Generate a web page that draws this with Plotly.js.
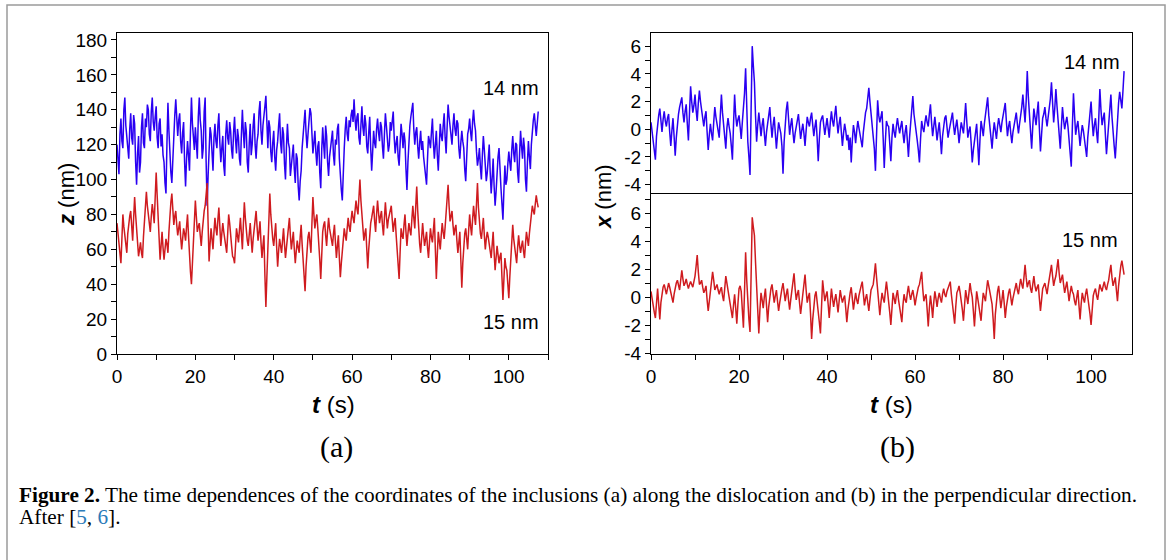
<!DOCTYPE html>
<html>
<head>
<meta charset="utf-8">
<script src="https://cdn.plot.ly/plotly-3.0.1.min.js"></script>
<style>html,body{margin:0;padding:0;background:#fff;}#chart{width:1170px;height:560px;}</style>
</head>
<body>
<div id="chart"></div>
<script>
// ---- data ----
const sampleStep = 0.25; // s between samples

// (a) z coordinate, 14 nm inclusion (blue)
const zBlue14 = [
120,108,103,126,135,122,118,140,147,131,125,117,112,129,138,124,120,137,132,110,
97,115,125,104,110,130,138,121,118,135,130,143,140,126,122,139,147,133,128,136,
142,124,118,132,135,119,126,114,110,98,92,121,144,128,112,104,98,115,128,137,
146,131,125,134,138,122,115,127,133,110,96,112,122,114,105,128,147,132,120,117,
130,121,112,136,147,134,128,112,118,139,147,110,85,102,115,130,126,112,105,124,
132,122,118,131,138,121,110,118,125,108,102,126,134,124,120,133,128,117,112,127,
136,123,115,129,124,112,108,126,140,127,118,133,128,110,104,121,132,114,120,131,
138,120,112,122,126,139,145,128,120,131,135,142,148,125,118,134,130,116,110,121,
128,113,105,117,122,131,138,121,115,130,126,109,100,119,132,121,118,102,108,116,
120,106,98,115,112,96,88,99,105,118,125,133,140,127,118,126,132,141,138,124,
115,121,128,116,108,119,122,104,95,117,130,120,112,131,125,110,102,113,118,124,
128,114,108,123,120,129,132,112,100,94,88,107,118,129,136,126,122,134,130,137,
140,133,146,135,128,136,138,124,120,131,142,130,125,137,132,119,115,127,136,118,
105,116,128,121,118,129,135,127,122,133,130,119,112,126,138,131,125,116,120,133,
128,134,139,124,115,121,125,113,108,120,132,126,118,127,122,106,94,110,126,131,
136,141,144,129,120,127,130,119,112,121,128,117,122,113,108,101,97,112,125,122,
118,127,135,121,112,120,128,114,105,119,132,125,122,131,138,124,115,130,143,136,
130,124,120,131,138,129,125,134,132,118,112,121,128,122,118,106,99,113,126,129,
135,127,122,133,140,132,128,116,108,112,118,107,100,114,125,117,110,99,104,113,
120,104,92,101,112,96,85,93,105,113,118,103,95,86,77,94,108,97,100,109,
116,110,105,117,125,115,110,121,120,104,98,115,128,119,112,124,118,100,93,110,
122,113,106,120,130,134,138,129,125,132,139];

// (a) z coordinate, 15 nm inclusion (red)
const zRed15 = [
75,68,62,57,52,66,80,73,68,63,58,69,76,79,82,71,65,78,90,80,
72,63,56,60,64,58,55,67,78,86,93,85,80,74,70,79,86,81,75,90,
104,91,80,66,54,62,70,61,54,60,66,63,58,70,80,87,92,82,74,79,
82,74,68,72,76,67,60,66,72,69,65,73,80,68,55,47,40,51,62,75,
88,79,70,73,75,68,62,70,78,82,85,92,98,75,53,63,72,66,60,70,
78,72,68,77,84,73,62,69,75,70,66,61,58,69,80,75,70,62,56,55,
52,63,72,68,64,71,78,69,60,74,87,78,70,65,62,69,75,66,58,66,
72,77,82,73,65,70,76,64,55,62,68,45,27,44,58,77,92,80,70,66,
62,69,75,61,50,59,66,62,58,65,72,63,55,61,68,74,78,68,60,65,
70,60,52,59,65,61,58,67,74,63,55,45,36,50,62,67,70,63,58,75,
90,80,72,77,80,72,65,54,43,58,70,74,76,68,62,71,78,72,68,64,
62,69,74,64,55,62,68,55,44,52,60,67,72,68,65,72,78,73,70,77,
82,78,75,82,88,83,80,90,100,88,78,70,65,69,72,60,49,60,70,75,
78,82,85,76,70,80,88,81,75,79,82,74,68,78,87,79,72,77,80,83,
85,77,70,75,78,68,60,51,43,58,72,68,66,74,80,70,62,69,75,71,
68,77,85,78,72,85,96,82,70,63,58,67,75,68,62,66,70,61,55,64,
72,67,64,71,78,60,43,57,70,65,60,68,75,70,66,73,80,89,97,85,
76,79,82,74,68,72,74,65,58,64,70,54,38,52,65,69,72,66,60,71,
80,73,68,77,85,79,74,86,98,84,72,69,66,72,78,68,60,66,70,67,
64,59,55,63,70,58,48,55,62,57,52,56,58,44,31,43,55,50,48,40,
32,44,55,66,74,66,60,56,52,61,68,62,58,62,65,59,55,63,70,66,
62,69,75,81,85,82,80,86,91,87,84];

// (b) x coordinate, 14 nm inclusion (blue)
const xBlue14 = [
0.5,-0.1,-0.8,-1.6,-2.2,-0.5,0.6,1.0,1.5,0.5,-0.2,0.7,1.3,0.6,0.2,0.8,1.1,-0.2,-1.2,-0.1,
0.8,-0.5,-1.9,-0.6,0.4,1.1,1.6,2.0,2.3,1.2,0.5,1.3,1.8,0.4,-0.8,1.2,3.1,2.0,1.2,1.7,
2.5,1.4,0.6,1.9,2.8,2.0,1.5,0.7,0.2,0.9,1.3,-0.2,-1.5,-0.4,0.4,-0.3,-0.8,0.5,1.6,0.9,
0.3,0.0,-0.6,1.0,2.5,1.2,0.1,-0.7,-1.4,0.1,0.8,0.2,-0.3,-1.2,-2.2,0.3,2.5,1.0,0.2,0.7,
1.0,0.2,-0.7,0.5,1.4,2.6,4.4,1.5,-0.9,-2.0,-3.3,1.5,6.0,4.6,3.4,1.0,-0.9,0.3,1.2,0.4,
-0.5,0.3,0.8,-0.3,-1.2,-0.2,0.4,1.0,1.6,0.4,-0.6,0.3,0.9,-0.3,-1.4,-0.4,0.5,0.1,-0.3,-1.2,
-3.2,-0.9,0.6,1.4,2.0,0.7,-0.4,0.3,0.8,-0.2,-1.0,-0.3,0.3,0.8,1.1,0.2,-0.7,-0.1,0.4,-0.3,
-1.2,-0.1,0.9,0.5,0.2,0.8,1.2,0.3,-0.5,0.2,0.7,-0.6,-2.3,-0.7,0.5,0.8,1.0,0.3,-0.4,0.2,
0.8,0.1,-0.6,0.5,1.3,0.6,0.2,1.0,1.7,0.6,-0.3,0.4,0.9,-0.2,-1.2,-0.3,0.4,-0.1,-0.8,-0.4,
-1.5,-0.6,-2.4,-0.8,0.3,-0.2,-1.0,-0.1,0.6,0.1,-0.5,-0.9,-1.3,-0.2,0.8,1.2,1.5,2.2,3.0,2.0,
1.2,0.4,-0.2,-1.4,-3.0,-0.4,2.1,1.0,0.5,0.9,1.3,-0.6,-2.8,-0.9,0.6,0.3,0.2,-1.0,-2.3,-0.6,
0.4,-0.2,-0.6,0.2,0.8,0.2,-0.3,0.2,0.6,-0.3,-1.0,-0.2,0.3,-0.8,-2.0,-0.6,0.5,1.3,2.4,1.1,
0.3,-0.2,-0.8,-1.5,-2.4,-0.7,0.6,0.1,-0.2,0.5,1.0,0.5,0.2,1.1,1.8,0.5,-0.5,0.2,0.9,0.1,
-0.8,-0.1,0.5,-0.6,-1.8,-0.5,0.4,0.8,1.0,0.1,-0.6,-0.1,0.3,0.8,1.2,0.3,-0.4,0.2,0.7,-0.1,
-1.0,-0.2,0.5,0.1,-0.3,0.7,1.9,0.6,-0.6,-0.1,0.2,-1.0,-2.4,-1.5,-0.8,-0.1,0.4,-1.1,-2.6,-0.8,
0.6,0.1,-0.5,0.4,1.2,1.7,2.3,1.0,0.1,-0.6,-1.4,-0.3,0.5,-0.1,-0.7,0.2,0.8,0.3,-0.2,0.5,
1.0,1.5,1.9,0.6,-0.5,0.2,0.6,-0.3,-1.0,-0.2,0.4,0.9,1.2,0.4,-0.3,0.4,0.9,1.6,2.5,1.4,
0.5,2.0,4.2,2.3,1.0,-0.3,-1.4,0.2,1.5,0.9,0.3,1.2,2.0,0.1,-1.6,-0.4,0.8,1.1,1.6,0.8,
0.2,0.9,1.4,2.2,3.4,1.6,0.5,1.5,2.9,1.7,0.8,-0.4,-1.4,0.2,1.6,0.7,0.0,0.5,0.9,0.2,
-0.6,-1.4,-2.7,0.2,2.6,1.0,-0.4,0.2,0.6,-0.3,-1.2,-0.4,0.3,-0.1,-0.8,-1.3,-2.0,-0.6,0.4,1.1,
2.0,0.6,-0.5,0.3,0.8,-0.2,-1.0,0.8,2.9,1.4,0.3,0.8,1.2,-0.4,-1.8,-0.7,0.2,1.3,2.5,0.9,
-0.5,-1.2,-2.1,-0.4,1.0,1.9,2.7,2.0,1.5,2.8,4.2];

// (b) x coordinate, 15 nm inclusion (red)
const xRed15 = [
0.4,-0.2,-0.6,-1.1,-1.5,-0.3,0.6,-0.5,-1.6,-0.4,0.3,0.7,0.9,0.5,0.2,0.6,1.0,0.7,0.4,0.1,
-0.4,0.2,0.7,1.0,1.2,0.8,0.5,1.2,1.9,1.3,0.8,1.0,1.3,0.9,0.6,0.9,1.1,0.9,0.7,1.1,
1.5,2.2,3.0,1.8,0.9,1.0,1.2,0.7,0.3,0.5,0.8,-0.2,-1.0,-0.3,0.4,1.1,1.8,1.2,0.5,0.7,
0.9,0.5,0.2,0.5,0.7,0.1,-0.3,0.6,1.5,1.0,0.6,0.0,-0.5,-1.0,-1.5,-0.6,0.2,-0.8,-1.9,-0.5,
0.6,0.8,0.4,-0.9,-2.2,0.4,3.2,1.2,-0.5,-1.6,-2.5,1.0,5.7,5.0,4.4,2.5,1.1,-0.8,-2.6,-0.9,
0.3,-0.2,-0.8,0.0,0.6,-0.6,-1.8,-0.7,0.2,0.6,0.9,0.3,-0.4,0.1,0.5,-0.3,-1.0,-0.4,0.3,0.6,
1.0,0.4,-0.3,0.2,0.6,-0.2,-0.9,-0.2,0.4,1.0,1.7,0.6,-0.2,0.2,0.5,-0.4,-1.2,-0.5,0.2,0.8,
1.6,0.5,-0.4,0.0,0.3,-1.2,-3.0,-1.6,-0.6,0.1,0.4,-0.2,-1.0,-1.8,-2.6,-0.5,1.2,0.4,-0.3,0.1,
0.4,-0.5,-1.5,-0.4,0.6,-0.1,-0.7,-0.2,0.2,-0.4,-1.1,-0.3,0.5,0.0,-0.4,-0.1,0.1,-0.8,-1.8,-0.9,
-0.2,0.3,0.7,-0.1,-0.9,-0.3,0.3,-0.2,-0.5,0.1,0.6,0.8,1.1,0.2,-0.6,-0.1,0.2,-0.4,-1.0,-0.2,
0.5,0.7,0.9,1.6,2.4,1.4,0.6,-0.4,-1.3,-0.4,0.3,-0.1,-0.4,0.4,1.1,0.4,-0.2,-1.1,-2.0,-0.7,
0.3,-0.1,-0.5,0.1,0.5,-0.2,-0.8,-1.3,-1.8,-0.6,0.2,-0.2,-0.4,0.3,0.8,0.2,-0.2,0.2,0.5,0.0,
-0.6,-0.1,0.4,0.7,0.9,1.4,1.8,0.6,-0.3,0.0,0.2,-0.9,-2.1,-0.8,0.1,-0.6,-1.5,-0.4,0.4,-0.1,
-0.7,-0.1,0.3,-0.1,-0.4,0.2,0.6,0.2,0.0,0.4,0.7,0.9,1.1,0.2,-0.6,-1.3,-1.9,-0.7,0.3,0.5,
0.8,0.3,-0.2,-0.9,-1.7,-0.5,0.5,0.0,-0.5,0.3,1.0,0.4,0.0,-1.0,-2.1,-0.8,0.4,-0.1,-0.6,-1.1,
-1.7,-0.6,0.3,0.0,-0.3,0.5,1.2,0.8,0.4,-0.1,-0.5,-1.6,-3.0,-1.2,-0.2,0.4,0.8,0.1,-0.8,-0.2,
0.5,-0.4,-1.5,-0.7,-0.1,0.3,0.6,0.0,-0.6,-0.1,0.3,0.7,1.0,0.5,0.2,0.8,1.3,0.9,0.6,1.4,
2.3,1.4,0.7,1.0,1.2,0.6,0.3,0.9,1.5,0.8,0.4,0.7,0.9,-0.1,-1.0,-0.2,0.6,0.8,1.0,0.6,
0.2,0.8,1.4,1.8,2.3,1.5,0.8,1.2,1.5,2.1,2.7,1.7,1.0,1.3,1.6,0.9,0.3,0.7,1.1,0.4,
-0.3,0.3,0.8,0.4,0.2,-0.3,-0.6,0.0,0.5,-0.6,-1.6,-0.5,0.3,-0.1,-0.4,0.2,0.6,0.0,-0.5,-1.2,
-2.0,-0.8,0.1,0.4,0.6,0.1,-0.2,0.4,0.9,0.6,0.4,0.8,1.1,0.7,0.5,0.9,1.2,1.8,2.3,1.4,
0.8,1.1,1.4,0.5,-0.3,0.8,1.8,2.2,2.6,2.0,1.6];

const tTickVals = [0,20,40,60,80,100];
const zTickVals = [0,20,40,60,80,100,120,140,160,180];
const xTickVals = [-4,-2,0,2,4,6];
const xTickText = ['-4','-2','0','2','4','6'];

// ---- geometry helpers (pixel -> paper) ----
const W = 1170, H = 560;
const px = v => v / W;
const py = v => 1 - v / H;

const times = arr => arr.map((_, i) => i * sampleStep);

const blue = '#2a00f2', red = '#cf1b1f';
const lineW = 1.5;

const traces = [
  {x: times(zBlue14), y: zBlue14, xaxis:'x', yaxis:'y', type:'scatter', mode:'lines', line:{color:blue, width:lineW}, hoverinfo:'skip'},
  {x: times(zRed15), y: zRed15, xaxis:'x', yaxis:'y', type:'scatter', mode:'lines', line:{color:red, width:lineW}, hoverinfo:'skip'},
  {x: times(xBlue14), y: xBlue14, xaxis:'x3', yaxis:'y3', type:'scatter', mode:'lines', line:{color:blue, width:lineW}, hoverinfo:'skip'},
  {x: times(xRed15), y: xRed15, xaxis:'x2', yaxis:'y2', type:'scatter', mode:'lines', line:{color:red, width:lineW}, hoverinfo:'skip'}
];

const sans = 'Liberation Sans, Arial, sans-serif';
const serif = 'Liberation Serif, Times New Roman, serif';
const tickFont = {family:sans, size:19, color:'#000'};
const base = {
  showline:true, linecolor:'#000', linewidth:1, mirror:true,
  ticks:'outside', ticklen:5, tickwidth:1, tickcolor:'#000',
  showgrid:false, zeroline:false, tickfont:tickFont, fixedrange:true
};
const mirrorAx = {
  showline:false, ticks:'inside', ticklen:5, tickwidth:1, tickcolor:'#000',
  showticklabels:false, showgrid:false, zeroline:false, fixedrange:true
};
const minorOut = d => ({dtick:d, tick0:0, ticks:'outside', ticklen:5, tickcolor:'#000'});

// panel (a)
const aX = [px(117), px(548)];
const aY = [py(354), py(33)];
const tRangeA = [0, 110];
const zRange = [0, 184];
// panel (b)
const bX = [px(651), px(1132)];
const bYlow = [py(354), py(193)];
const bYup = [py(193), py(33)];
const tRangeB = [0, 109.3];
const xRangeLow = [-4.07, 7.43];
const xRangeUp = [-4.6, 6.95];

function note(text, xp, yp, size, extra) {
  return Object.assign({text:text, x:px(xp), y:py(yp), xref:'paper', yref:'paper',
    xanchor:'center', yanchor:'middle', showarrow:false, font:{family:sans, size:size, color:'#000'}}, extra || {});
}

const layout = {
  width: W, height: H,
  margin: {l:0, r:0, t:0, b:0, pad:0},
  paper_bgcolor:'#fff', plot_bgcolor:'#fff',
  showlegend:false,
  font: {family:sans, size:18, color:'#000'},
  xaxis: Object.assign({}, base, {domain:aX, range:tRangeA, anchor:'y', tickmode:'array', tickvals:tTickVals, minor:minorOut(10)}),
  yaxis: Object.assign({}, base, {domain:aY, range:zRange, anchor:'x', tickmode:'array', tickvals:zTickVals, minor:minorOut(10)}),
  xaxis2: Object.assign({}, base, {domain:bX, range:tRangeB, anchor:'y2', mirror:false, tickmode:'array', tickvals:tTickVals, minor:minorOut(10)}),
  yaxis2: Object.assign({}, base, {domain:bYlow, range:xRangeLow, anchor:'x2', tickmode:'array', tickvals:xTickVals, ticktext:xTickText, minor:minorOut(1)}),
  xaxis3: Object.assign({}, base, {domain:bX, range:tRangeB, anchor:'y3', ticks:'', showticklabels:false}),
  yaxis3: Object.assign({}, base, {domain:bYup, range:xRangeUp, anchor:'x3', tickmode:'array', tickvals:xTickVals, ticktext:xTickText, minor:minorOut(1)}),
  // inward ticks on top / right edges
  xaxis4: Object.assign({}, mirrorAx, {overlaying:'x', side:'top', anchor:'y', range:tRangeA, dtick:10, tick0:0}),
  yaxis4: Object.assign({}, mirrorAx, {overlaying:'y', side:'right', anchor:'x', range:zRange, dtick:10, tick0:0}),
  xaxis5: Object.assign({}, mirrorAx, {overlaying:'x2', side:'top', anchor:'y2', range:tRangeB, dtick:10, tick0:0}),
  yaxis5: Object.assign({}, mirrorAx, {overlaying:'y2', side:'right', anchor:'x2', range:xRangeLow, dtick:1, tick0:0}),
  xaxis6: Object.assign({}, mirrorAx, {overlaying:'x3', side:'top', anchor:'y3', range:tRangeB, dtick:10, tick0:0}),
  yaxis6: Object.assign({}, mirrorAx, {overlaying:'y3', side:'right', anchor:'x3', range:xRangeUp, dtick:1, tick0:0}),
  shapes: [
    {type:'rect', xref:'paper', yref:'paper', x0:px(7), x1:px(1165), y0:py(5), y1:py(575),
     line:{color:'#9b9b9b', width:1.5}, fillcolor:'rgba(0,0,0,0)', layer:'below'}
  ],
  annotations: [
    note('<b><i>z</i></b> (nm)', 66, 195, 22, {textangle:-90}),
    note('<b><i>x</i></b> (nm)', 603, 196, 22, {textangle:-90}),
    note('<b><i>t</i></b> (s)', 333, 404, 24),
    note('<b><i>t</i></b> (s)', 891, 404, 24),
    note('(a)', 336, 447, 30, {font:{family:serif, size:30, color:'#000'}}),
    note('(b)', 897, 447, 30, {font:{family:serif, size:30, color:'#000'}}),
    note('14 nm', 511, 88, 20),
    note('15 nm', 511, 322, 20),
    note('14 nm', 1092, 62, 20),
    note('15 nm', 1090, 240, 20),
    note('<b>Figure 2.</b> The time dependences of the coordinates of the inclusions (a) along the dislocation and (b) in the perpendicular direction.',
      17, 495, 21.25, {xanchor:'left', font:{family:serif, size:21.25, color:'#000'}}),
    note('After [<span style="color:#2b7bb9">5</span>, <span style="color:#2b7bb9">6</span>].',
      17, 517, 21.25, {xanchor:'left', font:{family:serif, size:21.25, color:'#000'}})
  ]
};

Plotly.newPlot('chart', traces, layout, {staticPlot:true, displayModeBar:false});
</script>
</body>
</html>
